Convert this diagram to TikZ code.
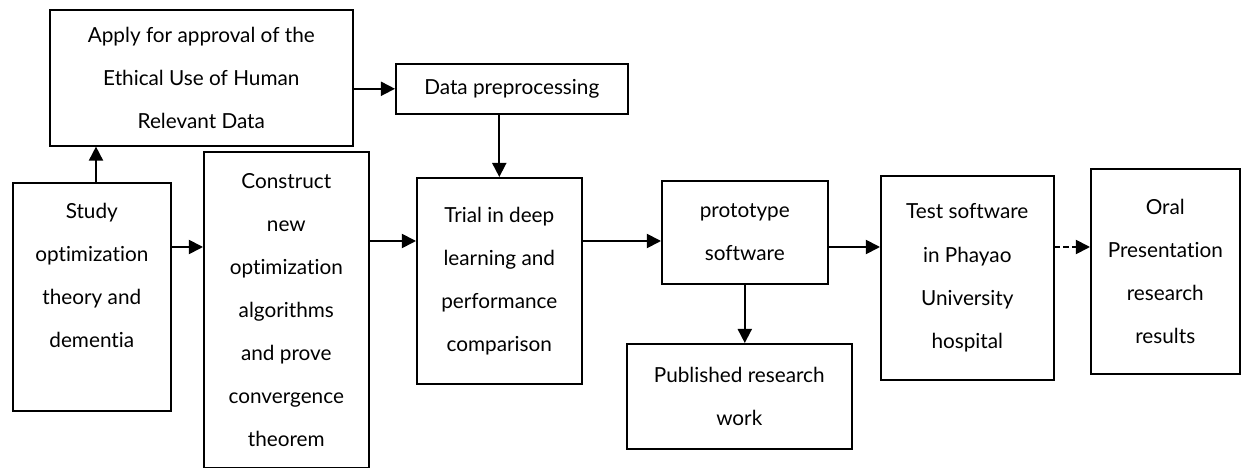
\documentclass[tikz,border=0pt]{standalone}
\usepackage{fontspec}
\setmainfont{Lato}[Ligatures=NoCommon]
\usetikzlibrary{arrows.meta}
\tikzstyle{box}=[draw,line width=.9pt,anchor=north west,inner sep=0pt,align=center,font=\fontsize{11.8}{24.5}\selectfont]
\tikzstyle{arr}=[line width=1pt,-{Triangle[length=8pt,width=8pt]}]

\begin{document}
\begin{tikzpicture}
\useasboundingbox (0,0) rectangle (24.84,-9.36);

%boxes
\node[box,minimum width=6.06cm,minimum height=2.72cm] (apply) at (.98,-.18) {Apply for approval of the\\Ethical Use of Human\\Relevant Data};
\node[box,minimum width=4.64cm,minimum height=1cm] (data) at (7.9,-1.26) {Data preprocessing};
\node[box,minimum width=3.16cm,minimum height=4.56cm] (study) at (.24,-3.64) {Study\\optimization\\theory and\\dementia\\[0pt]\mbox{}};
\node[box,minimum width=3.3cm,minimum height=6.32cm] (construct) at (4.06,-3.02) {Construct\\new\\optimization\\algorithms\\and prove\\convergence\\theorem};
\node[box,minimum width=3.3cm,minimum height=4.12cm] (trial) at (8.32,-3.54) {Trial in deep\\learning and\\performance\\comparison};
\node[box,minimum width=3.32cm,minimum height=2.06cm] (proto) at (13.22,-3.6) {prototype\\software};
\node[box,minimum width=4.5cm,minimum height=2.1cm] (pub) at (12.52,-6.86) {Published research\\work};
\node[box,minimum width=3.46cm,minimum height=4.08cm] (test) at (17.6,-3.5) {Test software\\in Phayao\\University\\hospital};
\node[box,minimum width=2.98cm,minimum height=4.1cm] (oral) at (21.8,-3.36) {Oral\\Presentation\\research\\results};

%arrows
\coordinate (rowa) at (0,-4.82);
\coordinate (rowb) at (0,-4.94);
\draw[arr] (study.north -| 1.92,0) -- (apply.south -| 1.92,0);
\draw[arr] (apply.east |- data.west) -- (data.west);
\draw[arr] (data.south -| trial.north) -- (trial.north);
\draw[arr] (study.east |- rowb) -- (construct.west |- rowb);
\draw[arr] (construct.east |- rowa) -- (trial.west |- rowa);
\draw[arr] (trial.east |- rowa) -- (proto.west |- rowa);
\draw[arr] (proto.east |- rowb) -- (test.west |- rowb);
\draw[arr] (proto.south) -- (proto.south |- pub.north);
\draw[arr,densely dashed] (test.east |- rowb) -- (oral.west |- rowb);

\end{tikzpicture}
\end{document}
